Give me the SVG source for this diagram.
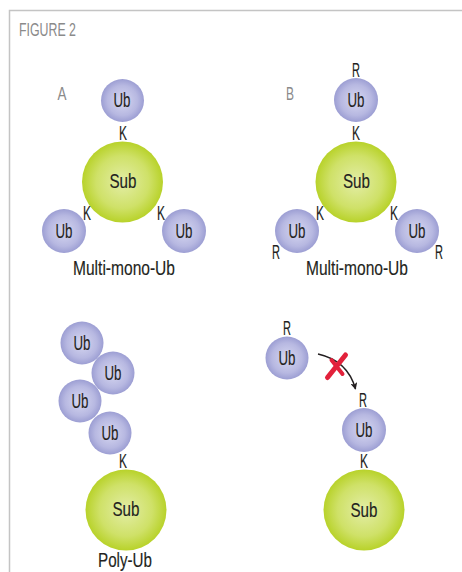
<svg xmlns="http://www.w3.org/2000/svg" width="462" height="572" viewBox="0 0 462 572">
  <style>
    text { font-family: "Liberation Sans", Arial, sans-serif; fill: #231f20; text-anchor: middle; }
    .lbl { font-size: 19.5px; stroke: #231f20; stroke-width: 0.15; }
    .panel { font-size: 17.5px; fill: #8a8a8a; }
    .ub { fill: url(#ubGrad); }
    .sub { fill: url(#subGrad); }
    .frame { stroke: #c4c4c4; stroke-width: 1.5; fill: none; }
  </style>
  <defs>
    <radialGradient id="ubGrad" cx="50%" cy="50%" r="50%">
      <stop offset="0%" stop-color="#d7d8f1"/>
      <stop offset="70%" stop-color="#b7b8e1"/>
      <stop offset="100%" stop-color="#9c9ed3"/>
    </radialGradient>
    <radialGradient id="subGrad" cx="50%" cy="50%" r="50%">
      <stop offset="0%" stop-color="#e3eda6"/>
      <stop offset="65%" stop-color="#cfe168"/>
      <stop offset="100%" stop-color="#b8d22a"/>
    </radialGradient>
    <marker id="arrowHead" viewBox="0 0 10 10" refX="9" refY="5" markerWidth="7" markerHeight="7" orient="auto" markerUnits="userSpaceOnUse">
      <path d="M0,0 L10,5 L0,10 L2.5,5 Z" fill="#231f20"/>
    </marker>
  </defs>

  <!-- frame -->
  <path class="frame" d="M462,10.5 H9.5 V572"/>
  <text x="19" y="36" class="panel" style="text-anchor:start" textLength="57" lengthAdjust="spacingAndGlyphs">FIGURE 2</text>

  <!-- Panel A: multi-mono-ubiquitination -->
  <text x="62" y="100" class="panel" textLength="9" lengthAdjust="spacingAndGlyphs">A</text>
  <g id="a-sub"><circle class="sub" cx="122.5" cy="182" r="40.5"/><text x="123" y="187.5" class="lbl" textLength="27" lengthAdjust="spacingAndGlyphs">Sub</text></g>
  <g id="a-ub-top"><circle class="ub" cx="122.5" cy="100.5" r="21.5"/><text x="122" y="107" class="lbl" textLength="17" lengthAdjust="spacingAndGlyphs">Ub</text></g>
  <g id="a-ub-left"><circle class="ub" cx="64" cy="231" r="22"/><text x="64" y="237.5" class="lbl" textLength="17" lengthAdjust="spacingAndGlyphs">Ub</text></g>
  <g id="a-ub-right"><circle class="ub" cx="184" cy="231" r="22"/><text x="184" y="237.5" class="lbl" textLength="17" lengthAdjust="spacingAndGlyphs">Ub</text></g>
  <text x="123" y="140" class="lbl" textLength="8" lengthAdjust="spacingAndGlyphs">K</text>
  <text x="87" y="220" class="lbl" textLength="8" lengthAdjust="spacingAndGlyphs">K</text>
  <text x="161" y="220" class="lbl" textLength="8" lengthAdjust="spacingAndGlyphs">K</text>
  <text x="124" y="275" class="lbl" textLength="102" lengthAdjust="spacingAndGlyphs">Multi-mono-Ub</text>

  <!-- Panel B: multi-mono-ubiquitination with K-to-R ubiquitin -->
  <text x="290" y="100" class="panel" textLength="8" lengthAdjust="spacingAndGlyphs">B</text>
  <g id="b-sub"><circle class="sub" cx="356" cy="182" r="40.5"/><text x="356.5" y="187.5" class="lbl" textLength="27" lengthAdjust="spacingAndGlyphs">Sub</text></g>
  <g id="b-ub-top"><circle class="ub" cx="356" cy="100" r="22"/><text x="356" y="106.5" class="lbl" textLength="17" lengthAdjust="spacingAndGlyphs">Ub</text></g>
  <g id="b-ub-left"><circle class="ub" cx="297" cy="231" r="22"/><text x="297" y="237.5" class="lbl" textLength="17" lengthAdjust="spacingAndGlyphs">Ub</text></g>
  <g id="b-ub-right"><circle class="ub" cx="417" cy="231" r="22"/><text x="417" y="237.5" class="lbl" textLength="17" lengthAdjust="spacingAndGlyphs">Ub</text></g>
  <text x="356" y="77" class="lbl" textLength="8" lengthAdjust="spacingAndGlyphs">R</text>
  <text x="356" y="140" class="lbl" textLength="8" lengthAdjust="spacingAndGlyphs">K</text>
  <text x="320" y="220" class="lbl" textLength="8" lengthAdjust="spacingAndGlyphs">K</text>
  <text x="394" y="220" class="lbl" textLength="8" lengthAdjust="spacingAndGlyphs">K</text>
  <text x="276" y="259" class="lbl" textLength="8" lengthAdjust="spacingAndGlyphs">R</text>
  <text x="439" y="259" class="lbl" textLength="8" lengthAdjust="spacingAndGlyphs">R</text>
  <text x="357" y="275" class="lbl" textLength="102" lengthAdjust="spacingAndGlyphs">Multi-mono-Ub</text>

  <!-- Panel C: poly-ubiquitin chain -->
  <g id="c-sub"><circle class="sub" cx="126" cy="510" r="40.5"/><text x="126" y="516" class="lbl" textLength="27" lengthAdjust="spacingAndGlyphs">Sub</text></g>
  <g id="c-ub-1"><circle class="ub" cx="82" cy="343" r="21.5"/><text x="82" y="349.5" class="lbl" textLength="17" lengthAdjust="spacingAndGlyphs">Ub</text></g>
  <g id="c-ub-2"><circle class="ub" cx="113" cy="373" r="21.5"/><text x="113" y="379.5" class="lbl" textLength="17" lengthAdjust="spacingAndGlyphs">Ub</text></g>
  <g id="c-ub-3"><circle class="ub" cx="80" cy="401" r="21.5"/><text x="80" y="407.5" class="lbl" textLength="17" lengthAdjust="spacingAndGlyphs">Ub</text></g>
  <g id="c-ub-4"><circle class="ub" cx="110" cy="433" r="21.5"/><text x="110" y="439.5" class="lbl" textLength="17" lengthAdjust="spacingAndGlyphs">Ub</text></g>
  <text x="123" y="468" class="lbl" textLength="8" lengthAdjust="spacingAndGlyphs">K</text>
  <text x="125" y="567" class="lbl" textLength="54" lengthAdjust="spacingAndGlyphs">Poly-Ub</text>

  <!-- Panel D: blocked chain extension on K-to-R ubiquitin -->
  <g id="d-ub-free"><circle class="ub" cx="287" cy="358" r="21.5"/><text x="287" y="364.5" class="lbl" textLength="17" lengthAdjust="spacingAndGlyphs">Ub</text></g>
  <text x="287" y="335" class="lbl" textLength="8" lengthAdjust="spacingAndGlyphs">R</text>
  <g id="d-sub"><circle class="sub" cx="364" cy="510" r="40.5"/><text x="364" y="516.5" class="lbl" textLength="27" lengthAdjust="spacingAndGlyphs">Sub</text></g>
  <g id="d-ub-bound"><circle class="ub" cx="364" cy="430" r="22"/><text x="364" y="436.5" class="lbl" textLength="17" lengthAdjust="spacingAndGlyphs">Ub</text></g>
  <text x="363" y="407" class="lbl" textLength="8" lengthAdjust="spacingAndGlyphs">R</text>
  <text x="364" y="468" class="lbl" textLength="8" lengthAdjust="spacingAndGlyphs">K</text>

  <g id="connectors">
    <path d="M318,354 C336,358 350,369 355.5,389" fill="none" stroke="#231f20" stroke-width="1.5" marker-end="url(#arrowHead)"/>
    <g id="block-mark" stroke="#e2213b" stroke-linecap="round" fill="none">
      <path d="M327.5,377.5 L345.5,355" stroke-width="5"/>
      <path d="M331.5,360 L342.5,374" stroke-width="4"/>
    </g>
  </g>
</svg>
